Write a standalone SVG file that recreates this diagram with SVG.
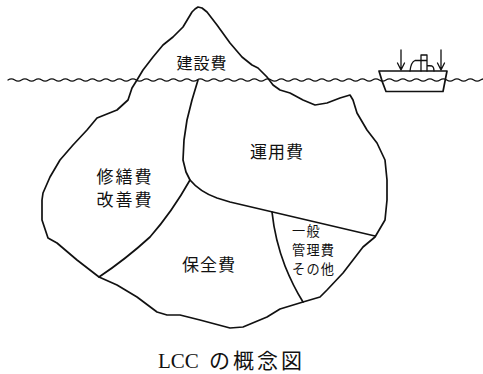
<svg xmlns="http://www.w3.org/2000/svg" width="483" height="374" viewBox="0 0 483 374">
  <style>
    .ln { fill: none; stroke: #111; stroke-width: 1.7; stroke-linejoin: round; stroke-linecap: round; }
    .thin { fill: none; stroke: #111; stroke-width: 1.3; stroke-linejoin: round; stroke-linecap: round; }
    .lbl { font-family: "Noto Sans CJK JP", "Noto Sans", sans-serif; fill: #111; }
    .cap { font-family: "Liberation Serif", "Noto Sans CJK JP", serif; fill: #111; }
  </style>

  <!-- iceberg outline and its internal partitions -->
  <g id="iceberg">
    <path class="ln" d="M198,7 L202,8 L207,12 L217,25 L230,43 L242,57 L252,65 L258,68 L267,77 L273,85 L280,90 L290,93 L303,100 L315,105 L327,103 L340,98 L350,95 L353,100 L357,113 L367,130 L377,143 L385,160 L387,180 L387,200 L385,220 L375,237 L363,247 L353,260 L343,273 L327,290 L320,297 L303,302 L280,309 L267,317 L243,327 L230,328 L200,320 L180,315 L167,315 L157,312 L137,297 L117,285 L99,277 L77,260 L57,243 L48,238 L42,220 L42,200 L43,193 L50,177 L60,160 L73,145 L87,130 L97,118 L117,110 L128,100 L132,88 L137,80 L143,70 L153,57 L163,45 L173,37 L183,27 L192,12 L195,9 Z"/>
  </g>

  <g id="connectors">
    <!-- divider from waterline down, curving right to the far edge -->
    <path class="ln" d="M198,80 L192,100 L187,120 L184,140 L183,160 L186,172 L190,180 Q200,192 217,198 L230,202 L375,236"/>
    <!-- divider from junction down-left to the outline -->
    <path class="ln" d="M190,180 Q172,212 150,237 Q126,259 99,277"/>
    <!-- divider bounding the general administration area -->
    <path class="ln" d="M272,212 Q275,240 285,266 Q293,286 303,302"/>
  </g>

  <!-- sea surface -->
  <g id="water">
    <path class="thin" d="M8,80 q3.375,-2.2 6.75,0 t6.75,0 t6.75,0 t6.75,0 t6.75,0 t6.75,0 t6.75,0 t6.75,0 t6.75,0 t6.75,0 t6.75,0 t6.75,0 t6.75,0 t6.75,0 t6.75,0 t6.75,0 t6.75,0 t6.75,0 t6.75,0 t6.75,0 t6.75,0 t6.75,0 t6.75,0 t6.75,0 t6.75,0 t6.75,0 t6.75,0 t6.75,0 t6.75,0 t6.75,0 t6.75,0 t6.75,0 t6.75,0 t6.75,0 t6.75,0 t6.75,0 t6.75,0 t6.75,0 t6.75,0 t6.75,0 t6.75,0 t6.75,0 t6.75,0 t6.75,0 t6.75,0 t6.75,0 t6.75,0 t6.75,0 t6.75,0 t6.75,0 t6.75,0 t6.75,0 t6.75,0 t6.75,0 t6.75,0 t6.75,0 t6.75,0 t6.75,0 t6.75,0 t6.75,0 t6.75,0 t6.75,0 t6.75,0 t6.75,0 t6.75,0 t6.75,0 t6.75,0 t6.75,0 t6.75,0 t6.75,0 t6.75,0"/>
  </g>

  <!-- ship -->
  <g id="ship">
    <path class="ln" d="M379,71 L447,71 L443,91.5 L386,91.5 Q382,82 379,71 Z"/>
    <path class="thin" d="M401,50 L401,70 M397.5,63 L401,70 L404.5,63"/>
    <path class="thin" d="M441,50 L441,70 M437.5,63 L441,70 L444.5,63"/>
    <path class="thin" d="M410,71 Q411,62 415,60.5 L421,60.5 M421,71 L421,55 L427,55 L427,71 M421,60.5 L427,60.5 M427,65.5 L432,66 Q434,67 434,71"/>
  </g>

  <!-- cost labels -->
  <g id="construction"><text class="lbl" x="202" y="69" font-size="16" text-anchor="middle" letter-spacing="1">建設費</text></g>
  <g id="operation"><text class="lbl" x="277" y="158" font-size="17" text-anchor="middle" letter-spacing="1">運用費</text></g>
  <g id="repair">
    <text class="lbl" font-size="17" text-anchor="middle" letter-spacing="2"><tspan x="125" y="183">修繕費</tspan><tspan x="125" y="206">改善費</tspan></text>
  </g>
  <g id="maintenance"><text class="lbl" x="209" y="271" font-size="17" text-anchor="middle" letter-spacing="1">保全費</text></g>
  <g id="general">
    <text class="lbl" font-size="13.2" letter-spacing="1.2"><tspan x="292" y="236">一般</tspan><tspan x="292" y="255.2">管理費</tspan><tspan x="292" y="274.4">その他</tspan></text>
  </g>

  <!-- caption -->
  <text class="cap" x="158" y="368" font-size="21">LCC<tspan x="209" letter-spacing="3" font-family="'Noto Sans CJK JP', sans-serif">の概念図</tspan></text>
</svg>
